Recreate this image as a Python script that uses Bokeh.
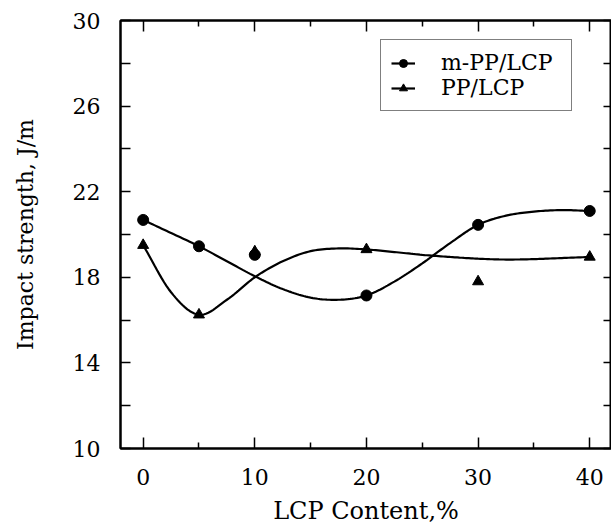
import numpy as np
from bokeh.plotting import figure
from bokeh.models import (Range1d, LinearAxis, FixedTicker, Legend, LegendItem,
                          CustomJSTickFormatter)
from bokeh.embed import file_html
from bokeh.resources import INLINE

# ---- data ----
lcp_content = [0, 5, 10, 20, 30, 40]
mpp_lcp = [20.68, 19.45, 19.05, 17.15, 20.45, 21.1]
pp_lcp = [19.5, 16.25, 19.2, 19.3, 17.8, 18.95]

# smooth trend curves
fit_x = [0, 2.5, 5, 7.5, 10, 12.5, 15, 17.5, 20, 22.5, 25, 27.5, 30, 32.5, 35, 37.5, 40]
mpp_fit = [20.68, 20.07, 19.45, 18.75, 18.05, 17.45, 17.05, 16.95, 17.15, 17.8,
           18.65, 19.6, 20.45, 20.88, 21.07, 21.14, 21.1]
pp_fit = [19.5, 17.3, 16.25, 16.95, 18.0, 18.75, 19.22, 19.35, 19.3, 19.18,
          19.05, 18.95, 18.87, 18.83, 18.85, 18.9, 18.95]

x_major = [0, 10, 20, 30, 40]
x_minor = [5, 15, 25, 35]
y_major = [10, 14, 18, 22, 26, 30]
y_minor = [12, 16, 20, 24, 28]

FONT = "DejaVu Serif"


def smooth(xk, yk, steps=12):
    """Catmull-Rom drawing of a curve through the given knots."""
    xk = np.asarray(xk, float)
    yk = np.asarray(yk, float)
    P = np.column_stack([xk, yk])
    P = np.vstack([2 * P[0] - P[1], P, 2 * P[-1] - P[-2]])
    out = []
    t = np.linspace(0, 1, steps, endpoint=False)[:, None]
    for i in range(1, len(P) - 2):
        p0, p1, p2, p3 = P[i - 1], P[i], P[i + 1], P[i + 2]
        seg = 0.5 * ((2 * p1) + (-p0 + p2) * t + (2 * p0 - 5 * p1 + 4 * p2 - p3) * t ** 2
                     + (-p0 + 3 * p1 - 3 * p2 + p3) * t ** 3)
        out.append(seg)
    out.append(P[-2][None, :])
    out = np.vstack(out)
    return out[:, 0], out[:, 1]


p = figure(width=611, height=527, output_backend="svg", toolbar_location=None,
           x_range=Range1d(-2.03, 41.95), y_range=Range1d(10, 30),
           min_border_left=120, min_border_top=20, min_border_right=0,
           min_border_bottom=60, x_axis_location=None, y_axis_location=None)
p.grid.visible = False
p.outline_line_color = "black"
p.outline_line_width = 2
p.background_fill_color = "white"
p.border_fill_color = "white"


def style(ax, labels=True, size="22px"):
    ax.axis_line_color = "black"
    ax.axis_line_width = 2
    ax.major_tick_line_color = "black"
    ax.minor_tick_line_color = "black"
    ax.major_tick_line_width = 1.5
    ax.minor_tick_line_width = 1.5
    ax.major_tick_out = 0
    ax.minor_tick_out = 0
    ax.major_label_text_font = FONT
    ax.major_label_text_font_size = "22px"
    ax.major_label_text_color = "black"
    ax.axis_label_text_font = FONT
    ax.axis_label_text_font_size = size
    ax.axis_label_text_font_style = "normal"
    ax.axis_label_text_color = "black"
    if not labels:
        ax.formatter = CustomJSTickFormatter(code="return ''")
        ax.major_label_standoff = 0
        ax.major_label_text_font_size = "0px"


bottom = LinearAxis(ticker=FixedTicker(ticks=x_major, minor_ticks=x_minor),
                    axis_label="LCP Content,%")
style(bottom, size="24px")
bottom.major_tick_in = 11
bottom.minor_tick_in = 6
bottom.major_label_standoff = 20
bottom.axis_label_standoff = 9
p.add_layout(bottom, "below")

top = LinearAxis(ticker=FixedTicker(ticks=x_major, minor_ticks=x_minor))
style(top, labels=False)
top.major_tick_in = 11
top.minor_tick_in = 6
p.add_layout(top, "above")

left = LinearAxis(ticker=FixedTicker(ticks=y_major, minor_ticks=y_minor),
                  axis_label="Impact strength, J/m")
style(left, size="22px")
left.major_tick_in = 10
left.minor_tick_in = 10
left.major_label_standoff = 20
left.axis_label_standoff = 32
p.add_layout(left, "left")

right = LinearAxis(ticker=FixedTicker(ticks=y_major, minor_ticks=y_minor))
style(right, labels=False)
right.major_tick_in = 8
right.minor_tick_in = 8
p.add_layout(right, "right")

# curves
cx1, cy1 = smooth(fit_x, mpp_fit)
cx2, cy2 = smooth(fit_x, pp_fit)
l1 = p.line(x=cx1, y=cy1, line_color="black", line_width=2.2)
l2 = p.line(x=cx2, y=cy2, line_color="black", line_width=2.2)

# points
s1 = p.scatter(x=lcp_content, y=mpp_lcp, marker="circle", size=11,
               fill_color="black", line_color="black")
s2 = p.scatter(x=lcp_content, y=pp_lcp, marker="triangle", size=11,
               fill_color="black", line_color="black")

legend = Legend(items=[LegendItem(label="m-PP/LCP", renderers=[l1, s1]),
                       LegendItem(label="PP/LCP", renderers=[l2, s2])],
                location=(260, 337))
legend.label_text_font = FONT
legend.label_text_font_size = "22px"
legend.label_text_color = "black"
legend.label_height = 20
legend.label_width = 120
legend.glyph_height = 20
legend.glyph_width = 24
legend.label_standoff = 26
legend.spacing = -5
legend.padding = 10
legend.margin = 0
legend.border_line_color = "black"
legend.border_line_width = 1.5
legend.background_fill_alpha = 1
p.add_layout(legend, "center")

open("out.html", "w").write(file_html(p, INLINE))
